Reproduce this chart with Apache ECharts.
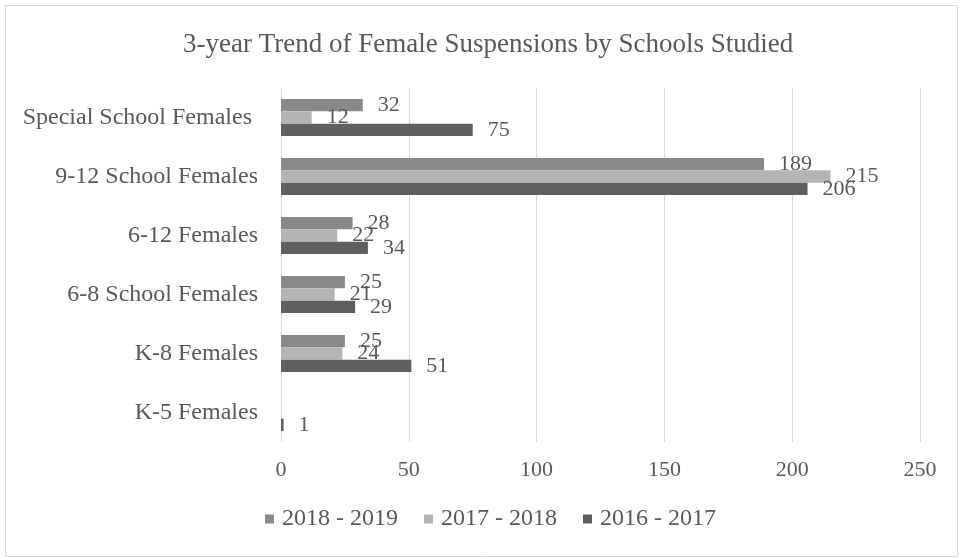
<!DOCTYPE html>
<html>
<head>
<meta charset="utf-8">
<script src="https://cdn.jsdelivr.net/npm/echarts@6/dist/echarts.min.js"></script>
<style>html,body{margin:0;padding:0;background:#fff;}#c{width:960px;height:559px;}</style>
</head>
<body>
<div id="c"></div>
<script>
var categories = ['Special School Females ', '9-12 School Females', '6-12 Females', '6-8 School Females', 'K-8 Females', 'K-5 Females'];
var seriesNames = ['2018 - 2019', '2017 - 2018', '2016 - 2017'];
var values2018_2019 = [32, 189, 28, 25, 25, null];
var values2017_2018 = [12, 215, 22, 21, 24, null];
var values2016_2017 = [75, 206, 34, 29, 51, 1];
var xTicks = [0, 50, 100, 150, 200, 250];
var colors = ['#898989', '#b4b4b4', '#5f5f5f'];

var FONT = 'Liberation Serif';
var TXT = '#595959';
var allValues = [values2018_2019, values2017_2018, values2016_2017];

var chart = echarts.init(document.getElementById('c'), null, {renderer: 'canvas'});
var series = seriesNames.map(function (n, i) {
  return {
    name: n,
    type: 'bar',
    data: allValues[i],
    barGap: '0%',
    barCategoryGap: '37%',
    itemStyle: {color: colors[i]},
    label: {
      show: true, position: 'right', distance: 15,
      fontFamily: FONT, fontSize: 22, color: TXT,
      formatter: function (p) { return p.value == null ? '' : p.value; }
    }
  };
});
chart.setOption({
  animation: false,
  backgroundColor: '#fff',
  title: {
    text: '3-year Trend of Female Suspensions by Schools Studied',
    left: 178, top: 26,
    textStyle: {fontFamily: FONT, fontSize: 27, fontWeight: 'normal', color: TXT}
  },
  legend: {
    data: seriesNames, bottom: 23, left: 260,
    itemWidth: 9, itemHeight: 9, itemGap: 26, icon: 'rect',
    textStyle: {fontFamily: FONT, fontSize: 24, color: TXT, padding: [0, 0, 0, 3]}
  },
  grid: {left: 281, right: 40, top: 88, bottom: 117, containLabel: false},
  xAxis: {
    type: 'value', min: xTicks[0], max: xTicks[xTicks.length - 1], interval: 50,
    axisLine: {show: false}, axisTick: {show: false},
    splitLine: {lineStyle: {color: '#d9d9d9', width: 1}},
    axisLabel: {fontFamily: FONT, fontSize: 22, color: TXT, margin: 17}
  },
  yAxis: {
    type: 'category', data: categories, inverse: true,
    axisLine: {show: false}, axisTick: {show: false},
    axisLabel: {fontFamily: FONT, fontSize: 24, color: TXT, margin: 23}
  },
  graphic: [{
    type: 'rect', shape: {x: 5.5, y: 5.5, width: 952, height: 551},
    style: {fill: 'none', stroke: '#d9d9d9', lineWidth: 1}, z: -1
  }],
  series: series
});
</script>
</body>
</html>
